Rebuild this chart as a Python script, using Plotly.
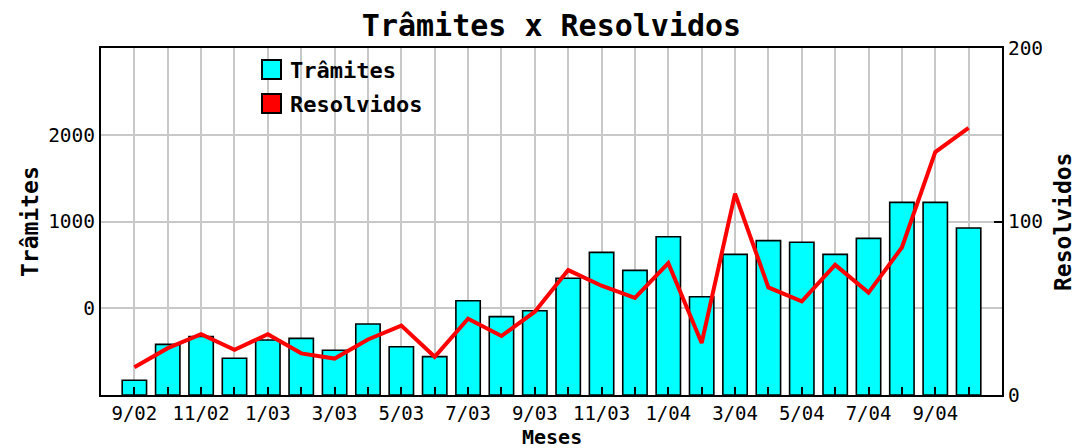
import plotly.graph_objects as go

months = ["9/02", "10/02", "11/02", "12/02", "1/03", "2/03", "3/03", "4/03", "5/03",
          "6/03", "7/03", "8/03", "9/03", "10/03", "11/03", "12/03", "1/04", "2/04",
          "3/04", "4/04", "5/04", "6/04", "7/04", "8/04", "9/04", "10/04"]
tramites = [-830, -416, -325, -577, -366, -347, -485, -182, -443, -558, 87, -97, -28,
            345, 644, 437, 825, 133, 621, 779, 760, 621, 806, 1221, 1221, 925]
resolvidos = [16, 27, 35, 26, 35, 24, 21, 32, 40, 22, 44, 34, 48, 72, 63, 56, 76, 30,
              116, 62, 54, 75, 59, 85, 140, 154]
left_ticks = [0, 1000, 2000]
right_ticks = [0, 100, 200]
LEFT_MIN, LEFT_MAX = -1000, 3000
RIGHT_MIN, RIGHT_MAX = 0, 200

xs = list(range(len(months)))
tick_text = [m if i % 2 == 0 else "" for i, m in enumerate(months)]

MONO = "DejaVu Sans Mono"

fig = go.Figure()
fig.add_trace(go.Bar(
    x=xs, y=[v - LEFT_MIN for v in tramites], base=LEFT_MIN,
    width=0.73, marker=dict(color="#00FFFF", line=dict(color="black", width=1.6)),
    name="Trâmites", showlegend=False, yaxis="y",
))
fig.add_trace(go.Scatter(
    x=xs, y=resolvidos, mode="lines", line=dict(color="#FF0000", width=4),
    name="Resolvidos", showlegend=False, yaxis="y2",
))

fig.update_layout(
    width=1075, height=448,
    margin=dict(l=101, r=73, t=48, b=53),
    paper_bgcolor="white", plot_bgcolor="white",
    title=dict(text="<b>Trâmites x Resolvidos</b>", x=0.5, xref="paper",
               y=1 - 25 / 448, yanchor="middle", yref="container",
               font=dict(family=MONO, size=30, color="black")),
    xaxis=dict(range=[-1, len(months)], tickmode="array", tickvals=xs, ticktext=tick_text,
               showgrid=True, gridcolor="#c8c8c8", gridwidth=2,
               ticks="inside", ticklen=8, tickwidth=2, tickcolor="black",
               showline=True, linecolor="black", linewidth=2, mirror=True,
               zeroline=False, tickfont=dict(family=MONO, size=19, color="black")),
    yaxis=dict(range=[LEFT_MIN, LEFT_MAX], tickmode="array", tickvals=left_ticks,
               showgrid=True, gridcolor="#c8c8c8", gridwidth=2, zeroline=False,
               showline=True, linecolor="black", linewidth=2, mirror=True,
               ticks="", tickfont=dict(family=MONO, size=19.5, color="black")),
    yaxis2=dict(range=[RIGHT_MIN, RIGHT_MAX], tickmode="array", tickvals=right_ticks,
                overlaying="y", side="right", showgrid=False, zeroline=False,
                showline=True, linecolor="black", linewidth=2,
                ticks="inside", ticklen=8, tickwidth=2, tickcolor="black",
                tickfont=dict(family=MONO, size=19.5, color="black")),
)

# Axis titles
fig.add_annotation(text="<b>Trâmites</b>", xref="paper", yref="paper",
                   x=(30 - 101) / 901, y=(395 - 222) / 347, textangle=-90, showarrow=False,
                   xanchor="center", yanchor="middle",
                   font=dict(family=MONO, size=23, color="black"))
fig.add_annotation(text="<b>Resolvidos</b>", xref="paper", yref="paper",
                   x=(1063 - 101) / 901, y=(395 - 222) / 347, textangle=-90, showarrow=False,
                   xanchor="center", yanchor="middle",
                   font=dict(family=MONO, size=23, color="black"))
fig.add_annotation(text="<b>Meses</b>", xref="paper", yref="paper",
                   x=0.5, y=(395 - 437) / 347, showarrow=False, borderpad=0,
                   xanchor="center", yanchor="middle",
                   font=dict(family=MONO, size=20, color="black"))

# Legend (manual)
def py(p):
    return (395 - p) / 347

def px(p):
    return (p - 101) / 901

fig.add_shape(type="rect", xref="paper", yref="paper", x0=px(262), x1=px(281),
              y0=py(79), y1=py(60), fillcolor="#00FFFF", line=dict(color="black", width=2))
fig.add_shape(type="rect", xref="paper", yref="paper", x0=px(262), x1=px(281),
              y0=py(113), y1=py(94), fillcolor="#FF0000", line=dict(color="black", width=2))
fig.add_annotation(text="<b>Trâmites</b>", xref="paper", yref="paper", x=px(288), y=py(70),
                   xanchor="left", yanchor="middle", showarrow=False,
                   font=dict(family=MONO, size=22, color="black"))
fig.add_annotation(text="<b>Resolvidos</b>", xref="paper", yref="paper", x=px(288), y=py(104),
                   xanchor="left", yanchor="middle", showarrow=False,
                   font=dict(family=MONO, size=22, color="black"))

fig.write_html("out.html", config={"displayModeBar": False},
               post_script="document.body.style.margin='0';")
